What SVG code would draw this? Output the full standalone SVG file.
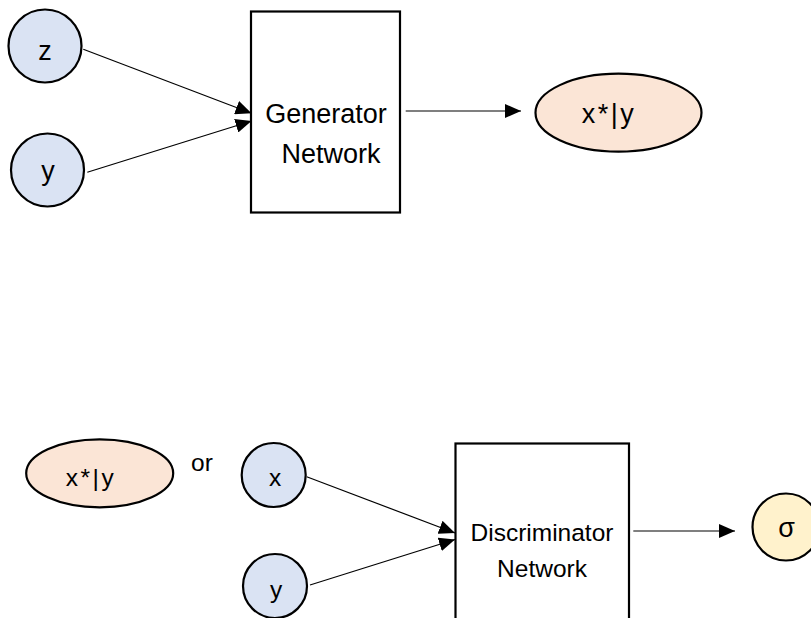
<svg xmlns="http://www.w3.org/2000/svg" width="811" height="618" viewBox="0 0 811 618">
  <style>
    .node { stroke: #000; stroke-width: 2.2; }
    .in { fill: #DAE3F3; }
    .out { fill: #FBE5D6; }
    .sig { fill: #FFF2CC; }
    .box { fill: #fff; stroke: #000; stroke-width: 2.2; }
    .edge { stroke: #000; stroke-width: 1.2; fill: none; marker-end: url(#arrow); }
    text { font-family: "Liberation Sans", Arial, sans-serif; fill: #000; text-anchor: middle; }
    .big { font-size: 27px; }
    .small { font-size: 24.5px; }
    .cond { letter-spacing: 2.5px; }
  </style>
  <defs>
    <marker id="arrow" markerUnits="userSpaceOnUse" markerWidth="16" markerHeight="14" refX="16" refY="7" orient="auto">
      <path d="M0,0 L16,7 L0,14 z" fill="#000"/>
    </marker>
  </defs>
  <rect width="811" height="618" fill="#fff"/>

  <!-- generator stage -->
  <g id="z">
    <circle class="node in" cx="45" cy="46" r="36.5"/>
    <text class="big" x="45" y="60">z</text>
  </g>
  <g id="y-gen">
    <circle class="node in" cx="47.5" cy="170" r="36.5"/>
    <text class="big" x="48" y="180">y</text>
  </g>
  <g id="generator">
    <rect class="box" x="251" y="11.5" width="149" height="201"/>
    <text class="big" x="326" y="123">Generator</text>
    <text class="big" x="331" y="162.5">Network</text>
  </g>
  <g id="fake-gen">
    <ellipse class="node out" cx="618.5" cy="112.7" rx="83" ry="39"/>
    <text class="big cond" x="609" y="123">x*|y</text>
  </g>

  <!-- discriminator stage -->
  <g id="fake-disc">
    <ellipse class="node out" cx="99.7" cy="473.3" rx="73.5" ry="34"/>
    <text class="small cond" x="91" y="485.7">x*|y</text>
  </g>
  <g id="or-label">
    <text class="small" x="202" y="470.5">or</text>
  </g>
  <g id="x">
    <circle class="node in" cx="273.7" cy="475" r="32"/>
    <text class="small" x="275" y="485.7">x</text>
  </g>
  <g id="y-disc">
    <circle class="node in" cx="275" cy="586" r="32"/>
    <text class="small" x="276" y="598">y</text>
  </g>
  <g id="discriminator">
    <rect class="box" x="455.5" y="443.5" width="173.5" height="220"/>
    <text class="small" x="542" y="540.7">Discriminator</text>
    <text class="small" x="542" y="576.7">Network</text>
  </g>
  <g id="sigma">
    <circle class="node sig" cx="786" cy="527" r="33.5"/>
    <text class="big" x="786.5" y="537">σ</text>
  </g>

  <g id="connectors">
    <line class="edge" x1="83.3" y1="49.3" x2="251.5" y2="113.3"/>
    <line class="edge" x1="87.3" y1="172.3" x2="251.5" y2="121"/>
    <line class="edge" x1="405.7" y1="111" x2="521" y2="111"/>
    <line class="edge" x1="306.7" y1="476.7" x2="455" y2="533"/>
    <line class="edge" x1="310" y1="585" x2="455" y2="539.5"/>
    <line class="edge" x1="633.3" y1="531" x2="735" y2="531"/>
  </g>
</svg>
